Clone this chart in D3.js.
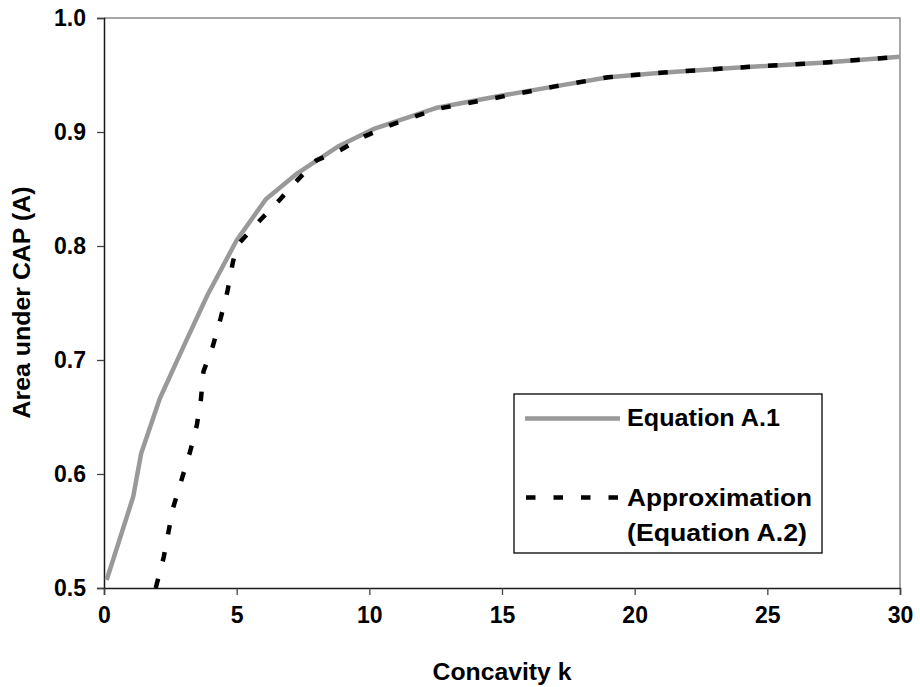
<!DOCTYPE html>
<html>
<head>
<meta charset="utf-8">
<script src="https://cdn.jsdelivr.net/npm/d3@7"></script>
<style>
  html, body { margin: 0; padding: 0; background: #fff; }
  svg { display: block; font-family: "Liberation Sans", Arial, sans-serif; }
</style>
</head>
<body>
<svg id="chart" width="920" height="687"></svg>
<script>
// ---- data ----
const eqK = [0.1, 1.1, 1.4, 2.1, 3.0, 3.9, 5.0, 6.1, 7.3, 8.8, 10.2, 12.5, 15.0, 17.0, 19.0, 21.0, 23.5, 27.2, 30.0];
const eqA = [0.507, 0.580, 0.618, 0.666, 0.712, 0.757, 0.805, 0.841, 0.864, 0.887, 0.903, 0.921, 0.932, 0.940, 0.948, 0.952, 0.956, 0.961, 0.966];

const apK = [1.95, 2.25, 2.6, 2.95, 3.25, 3.5, 3.65, 3.75, 4.1, 4.4, 4.65, 4.85, 5.0, 5.9, 6.6, 7.3, 8.0, 8.9, 9.8, 10.8, 12.5, 15.0, 17.0, 19.0, 21.0, 23.5, 27.2, 30.0];
const apA = [0.500, 0.527, 0.570, 0.597, 0.620, 0.643, 0.665, 0.690, 0.712, 0.737, 0.760, 0.785, 0.800, 0.823, 0.840, 0.858, 0.875, 0.884, 0.896, 0.906, 0.920, 0.931, 0.940, 0.948, 0.952, 0.956, 0.961, 0.966];

const xTicks = [0, 5, 10, 15, 20, 25, 30];
const yTicks = [0.5, 0.6, 0.7, 0.8, 0.9, 1.0];
const xTitle = "Concavity k";
const yTitle = "Area under CAP (A)";
const legendLabels = ["Equation A.1", "Approximation", "(Equation A.2)"];

// ---- drawing ----
const svg = d3.select("#chart");
const L = 104, R = 900, T = 18, B = 588;
const x = d3.scaleLinear().domain([0, 30]).range([L, R]);
const y = d3.scaleLinear().domain([0.5, 1.0]).range([B, T]);
const FS = 23;

// frame (top & right in grey)
svg.append("path")
  .attr("d", `M${L},${T}H${R}V${B}`)
  .attr("fill", "none").attr("stroke", "#8c8c8c").attr("stroke-width", 1.5);

// axes
const yAxis = svg.append("g").attr("transform", `translate(${L},0)`)
  .call(d3.axisLeft(y).tickValues(yTicks).tickFormat(d3.format(".1f")).tickSize(7).tickPadding(11));
const xAxis = svg.append("g").attr("transform", `translate(0,${B})`)
  .call(d3.axisBottom(x).tickValues(xTicks).tickFormat(d3.format("d")).tickSize(7).tickPadding(11));

[yAxis, xAxis].forEach(g => {
  g.select(".domain").attr("stroke", "#1a1a1a").attr("stroke-width", 1.5);
  g.selectAll(".tick line").attr("stroke", "#444").attr("stroke-width", 1.3);
  g.selectAll(".tick text")
    .attr("font-family", '"Liberation Sans", Arial, sans-serif')
    .attr("font-size", FS).attr("font-weight", "bold").attr("fill", "#000");
});
xAxis.selectAll(".tick text").attr("dy", "0.72em");

// titles
svg.append("text")
  .attr("x", (L + R) / 2).attr("y", 680)
  .attr("text-anchor", "middle")
  .attr("font-size", 24).attr("font-weight", "bold")
  .attr("textLength", 139).attr("lengthAdjust", "spacingAndGlyphs")
  .text(xTitle);
svg.append("text")
  .attr("transform", `translate(30,302.5) rotate(-90)`)
  .attr("text-anchor", "middle")
  .attr("font-size", 24).attr("font-weight", "bold")
  .attr("textLength", 232).attr("lengthAdjust", "spacingAndGlyphs")
  .text(yTitle);

// lines
const eqData = eqK.map((k, i) => ({ k, a: eqA[i] }));
const apData = apK.map((k, i) => ({ k, a: apA[i] }));
const line = d3.line().x(d => x(d.k)).y(d => y(d.a));

svg.append("path").datum(eqData)
  .attr("d", line).attr("fill", "none")
  .attr("stroke", "#999999").attr("stroke-width", 4.5).attr("stroke-linejoin", "round");
svg.append("path").datum(apData)
  .attr("d", line).attr("fill", "none")
  .attr("stroke", "#000").attr("stroke-width", 4.5)
  .attr("stroke-dasharray", "9.5,18");

// legend
const lg = svg.append("g");
lg.append("rect").attr("x", 514).attr("y", 394).attr("width", 308).attr("height", 159)
  .attr("fill", "#fff").attr("stroke", "#000").attr("stroke-width", 1.3);
lg.append("line").attr("x1", 525).attr("x2", 620).attr("y1", 418.5).attr("y2", 418.5)
  .attr("stroke", "#999999").attr("stroke-width", 4.5);
lg.append("line").attr("x1", 526).attr("x2", 620).attr("y1", 497.5).attr("y2", 497.5)
  .attr("stroke", "#000").attr("stroke-width", 4.5).attr("stroke-dasharray", "9.5,18");
const ly = [426, 506, 541];
const lw = [153, 185, 180];
legendLabels.forEach((t, i) => {
  lg.append("text").attr("x", 627).attr("y", ly[i])
    .attr("font-size", FS).attr("font-weight", "bold")
    .attr("textLength", lw[i]).attr("lengthAdjust", "spacingAndGlyphs")
    .text(t);
});
</script>
</body>
</html>
